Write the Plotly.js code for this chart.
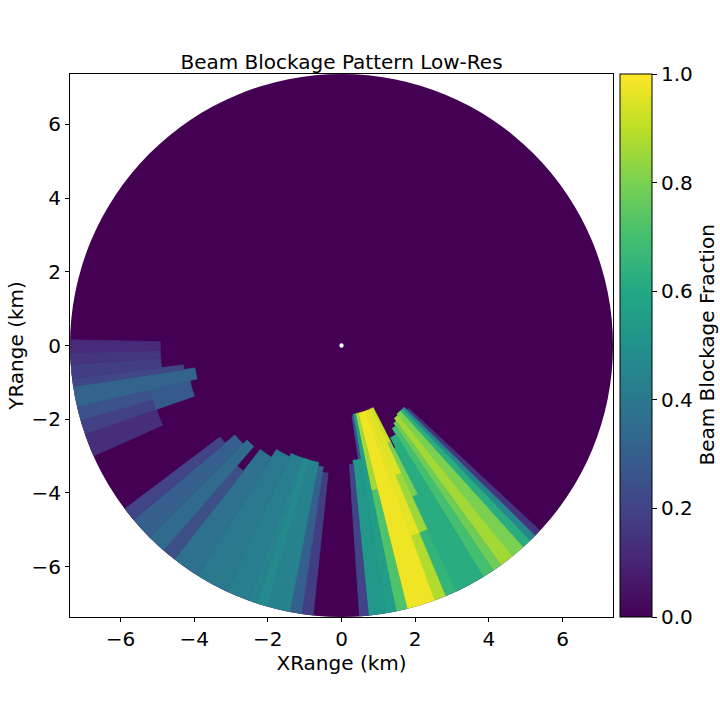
<!DOCTYPE html>
<html>
<head>
<meta charset="utf-8">
<script src="https://cdn.plot.ly/plotly-3.0.1.min.js"></script>
<style>html,body{margin:0;padding:0;background:#fff;}#chart{width:720px;height:720px;}</style>
</head>
<body>
<div id="chart"></div>
<script>
// Maximum range of the radar sweep (km)
const maxRange = 7.37;

// Blocked sectors: azimuth (deg clockwise from north), range interval (km), blockage fraction
const azStart = [246, 251, 254, 251, 257, 261.3, 263, 266, 268.5,
                 186, 188.5, 191, 196, 200, 205, 212, 218, 221, 225, 230,
                 133, 134.5, 136, 138, 141, 144, 146, 148.5, 152,
                 153, 153, 155, 155, 155, 157.5, 157.5, 160, 166, 166, 168.4, 170.5, 170.5, 174.3];
const azEnd   = [251, 254, 257, 257, 261.3, 263, 266, 268.5, 271.2,
                 188.5, 191, 200, 198, 205, 212, 218, 221, 225, 230, 233,
                 134.5, 136, 138, 141, 144, 146, 148.5, 152, 155,
                 155, 155, 157.5, 157.5, 157.5, 160, 160, 166, 168.4, 168.4, 170.5, 171.5, 174.3, 176.2];
const rStart  = [5.3, 4.9, 4.6, 4.2, 4.0, 4.3, 4.9, 4.9, 4.9,
                 3.45, 3.3, 3.2, 3.2, 3.2, 3.3, 3.55, 4.3, 3.6, 3.75, 4.1,
                 2.45, 2.35, 2.35, 2.35, 2.4, 2.5, 2.6, 2.8, 3.1,
                 1.85, 2.9, 1.85, 3.8, 5.5, 1.85, 5.5, 1.85, 1.85, 4.0, 1.85, 1.9, 3.1, 3.2];
const rEnd    = [7.37, 7.37, 7.37, 5.3, 7.37, 7.37, 7.37, 7.37, 7.37,
                 7.37, 7.37, 7.37, 7.37, 7.37, 7.37, 7.37, 7.37, 7.37, 7.37, 7.37,
                 7.37, 7.37, 7.37, 7.37, 7.37, 7.37, 7.37, 7.37, 7.37,
                 2.9, 4.5, 3.8, 5.5, 7.37, 5.5, 7.37, 7.37, 4.0, 7.37, 7.37, 3.1, 7.37, 7.37];
const blockage = [0.13, 0.19, 0.25, 0.28, 0.32, 0.21, 0.18, 0.15, 0.12,
                  0.18, 0.30, 0.44, 0.47, 0.42, 0.40, 0.37, 0.24, 0.35, 0.30, 0.20,
                  0.15, 0.45, 0.62, 0.80, 0.86, 0.78, 0.70, 0.62, 0.62,
                  0.92, 0.80, 0.95, 0.85, 0.65, 0.96, 0.88, 0.98, 0.86, 0.72, 0.55, 0.25, 0.53, 0.20];

const xTicks = [-6, -4, -2, 0, 2, 4, 6];
const cbTicks = [0, 0.2, 0.4, 0.6, 0.8, 1.0];

const viridis = [
  [0.0, '#440154'], [0.1, '#482475'], [0.2, '#414487'], [0.3, '#355f8d'],
  [0.4, '#2a788e'], [0.5, '#21918c'], [0.6, '#22a884'], [0.7, '#44bf70'],
  [0.8, '#7ad151'], [0.9, '#bddf26'], [1.0, '#fde725']
];

const theta = azStart.map((a, i) => (a + azEnd[i]) / 2);
const width = azStart.map((a, i) => azEnd[i] - a);
const radial = rStart.map((r, i) => rEnd[i] - r);

const font = {family: 'DejaVu Sans, sans-serif', size: 20, color: '#000'};

const traces = [
  {
    type: 'scatter', x: [], y: [], xaxis: 'x', yaxis: 'y',
    showlegend: false, hoverinfo: 'skip'
  },
  {
    type: 'barpolar', subplot: 'polar',
    theta: theta, width: width, base: rStart, r: radial,
    marker: {
      color: blockage, colorscale: viridis, cmin: 0, cmax: 1,
      line: {width: 0.8, color: blockage, colorscale: viridis, cmin: 0, cmax: 1},
      showscale: true,
      colorbar: {
        x: 1.013, xanchor: 'left', xpad: 0, ypad: 0,
        y: 0.5, yanchor: 'middle', len: 1, lenmode: 'fraction',
        thickness: 32, outlinewidth: 1, outlinecolor: '#000',
        ticks: 'outside', ticklen: 5, tickwidth: 1, tickcolor: '#000',
        tickvals: cbTicks, tickformat: '.1f', tickfont: font
      }
    },
    showlegend: false, hoverinfo: 'skip'
  }
];

const axisCommon = {
  range: [-maxRange, maxRange], tickvals: xTicks, ticks: 'outside', ticklen: 4,
  tickwidth: 1, tickcolor: '#000', showline: true, linecolor: '#000', linewidth: 1,
  mirror: true, showgrid: false, zeroline: false, tickfont: font, fixedrange: true,
  automargin: false
};

const layout = {
  width: 720, height: 720,
  margin: {l: 70, r: 107, t: 74, b: 103, autoexpand: false},
  paper_bgcolor: '#fff', plot_bgcolor: '#fff',
  font: font,
  showlegend: false,
  title: {text: 'Beam Blockage Pattern Low-Res', font: font, xref: 'paper', x: 0.5, xanchor: 'center',
          y: 1 - 62 / 720, yanchor: 'middle'},
  xaxis: Object.assign({}, axisCommon, {title: {text: 'XRange (km)', font: font, standoff: 0}}),
  yaxis: Object.assign({}, axisCommon, {title: {text: 'YRange (km)', font: font, standoff: 2}}),
  annotations: [{
    text: 'Beam Blockage Fraction', xref: 'paper', yref: 'paper',
    x: (706 - 70) / 543, y: 0.5, xanchor: 'center', yanchor: 'middle',
    textangle: -90, showarrow: false, font: font
  }],
  polar: {
    domain: {x: [0, 1], y: [0, 1]},
    bgcolor: '#440154',
    hole: 0.008,
    barmode: 'overlay',
    radialaxis: {visible: false, range: [0, maxRange]},
    angularaxis: {visible: false, rotation: 90, direction: 'clockwise'}
  }
};

Plotly.newPlot('chart', traces, layout, {displayModeBar: false, staticPlot: true});
</script>
</body>
</html>
